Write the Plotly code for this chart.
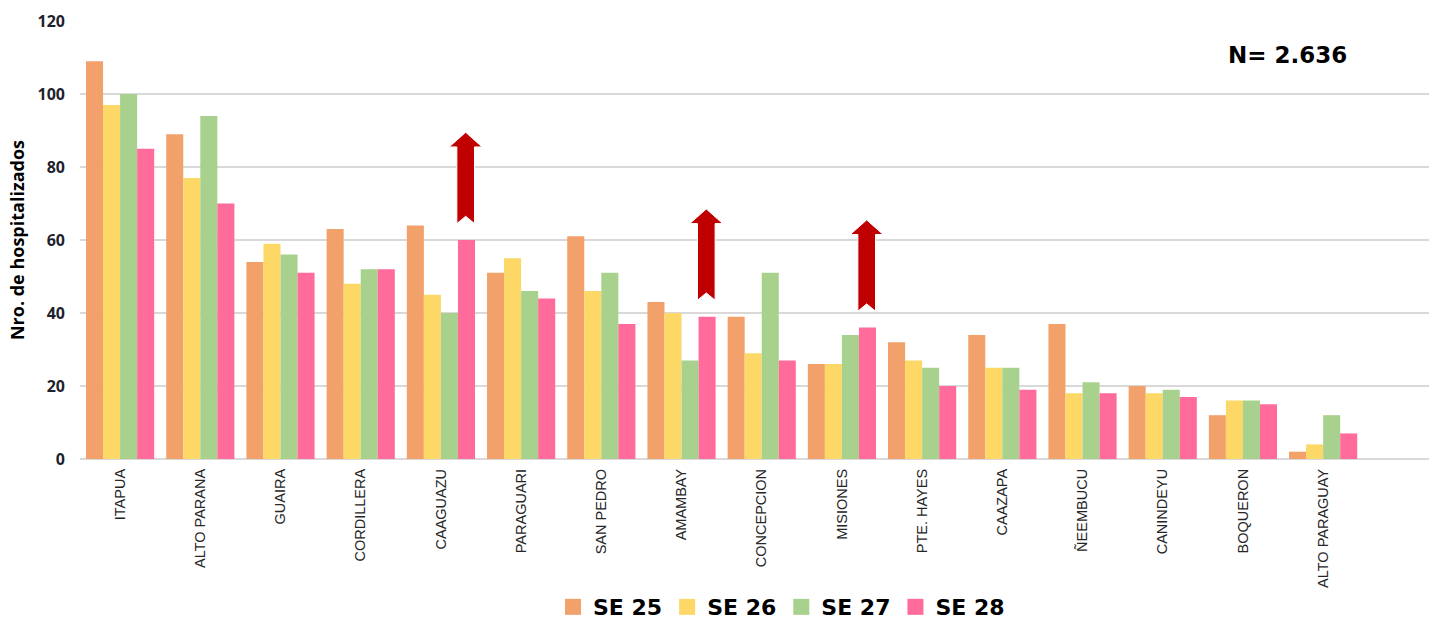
import plotly.graph_objects as go

# Hospitalizados por departamento, semanas epidemiológicas 25 a 28
departamentos = [
    "ITAPUA", "ALTO PARANA", "GUAIRA", "CORDILLERA", "CAAGUAZU", "PARAGUARI",
    "SAN PEDRO", "AMAMBAY", "CONCEPCION", "MISIONES", "PTE. HAYES", "CAAZAPA",
    "ÑEEMBUCU", "CANINDEYU", "BOQUERON", "ALTO PARAGUAY",
]
se25 = [109, 89, 54, 63, 64, 51, 61, 43, 39, 26, 32, 34, 37, 20, 12, 2]
se26 = [97, 77, 59, 48, 45, 55, 46, 40, 29, 26, 27, 25, 18, 18, 16, 4]
se27 = [100, 94, 56, 52, 40, 46, 51, 27, 51, 34, 25, 25, 21, 19, 16, 12]
se28 = [85, 70, 51, 52, 60, 44, 37, 39, 27, 36, 20, 19, 18, 17, 15, 7]

series_names = ["SE 25", "SE 26", "SE 27", "SE 28"]
series_colors = ["#F2A16A", "#FDD866", "#A9D18E", "#FF6B9B"]

# Departamentos con aumento en la última semana (flecha roja)
en_aumento = ["CAAGUAZU", "AMAMBAY", "MISIONES"]

total_n = "N= 2.636"

x_pos = list(range(len(departamentos)))

fig = go.Figure()
for name, vals, col in zip(series_names, [se25, se26, se27, se28], series_colors):
    fig.add_trace(go.Bar(
        x=x_pos, y=vals, name=name, marker=dict(color=col, line=dict(width=0)),
        showlegend=False,
    ))
    # legend swatch
    fig.add_trace(go.Scatter(
        x=[None], y=[None], mode="markers", name=name,
        marker=dict(symbol="square", size=16, color=col),
    ))

# red block arrows above the SE 28 bar of each rising department
n_series = len(series_names)
bargap = 0.15
bar_w = (1 - bargap) / n_series
for dep in en_aumento:
    i = departamentos.index(dep)
    cx = i + (n_series - 1) / 2 * bar_w - 0.01
    base = se28[i] + 4.5
    notch = base + 2.0
    head_base = base + 21.0
    tip = base + 25.0
    hw, sw = 0.205, 0.11
    path = (
        f"M {cx - sw} {base} L {cx} {notch} L {cx + sw} {base} "
        f"L {cx + sw} {head_base} L {cx + hw} {head_base} L {cx} {tip} "
        f"L {cx - hw} {head_base} L {cx - sw} {head_base} Z"
    )
    fig.add_shape(type="path", path=path, xref="x", yref="y",
                  fillcolor="#C00000", line=dict(color="white", width=1))

fig.add_annotation(
    text=f"<b>{total_n}</b>", xref="paper", yref="paper", x=0.895, y=0.922,
    xanchor="center", yanchor="middle", showarrow=False,
    font=dict(family="DejaVu Sans", size=23, color="#000000"),
)

fig.update_layout(
    width=1429, height=621,
    margin=dict(l=80, r=0, t=21, b=162, autoexpand=False),
    plot_bgcolor="white", paper_bgcolor="white",
    barmode="group", bargap=bargap, bargroupgap=0,
    legend=dict(
        orientation="h", x=0.52, xanchor="center", y=-0.338, yanchor="middle",
        font=dict(family="DejaVu Sans", size=22, color="#000000", weight="bold"),
        itemsizing="trace", itemwidth=30, tracegroupgap=0,
    ),
    xaxis=dict(
        range=[-0.5, 16.32], tickmode="array", tickvals=x_pos, ticktext=departamentos,
        tickangle=-90, showgrid=False, zeroline=False, showline=False, ticks="",
        ticklabelstandoff=6, automargin=False,
        tickfont=dict(family="Liberation Sans", size=14.5, color="#262626"),
    ),
    yaxis=dict(
        range=[0, 120], dtick=20, gridcolor="#D9D9D9", gridwidth=1.5,
        zeroline=True, zerolinecolor="#D9D9D9", zerolinewidth=1.5,
        showline=False, ticks="", ticklabelstandoff=14, automargin=False,
        tickfont=dict(family="Open Sans", size=16, color="#1F1F2E", weight="bold"),
        title=dict(text="Nro. de hospitalizados", standoff=8,
                   font=dict(family="Open Sans", size=18, color="#000000", weight="bold")),
    ),
)

fig.write_html("out.html")
